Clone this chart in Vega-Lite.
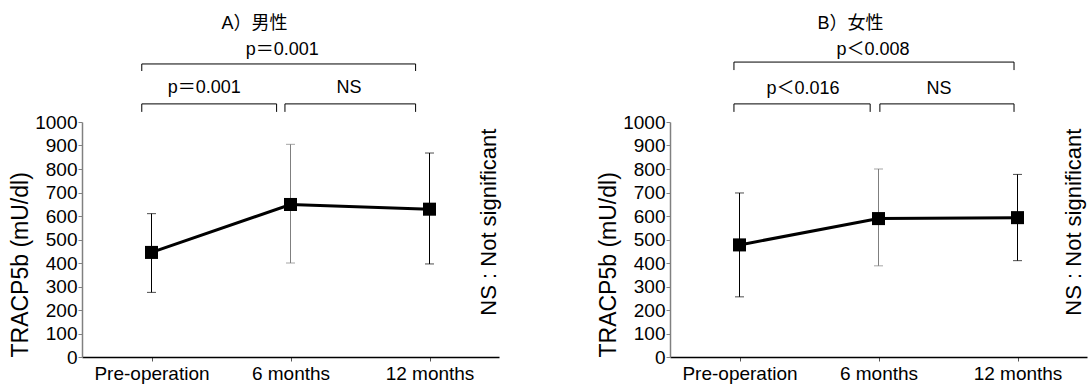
{
  "$schema": "https://vega.github.io/schema/vega-lite/v6.json",
  "padding": {"left": 9, "top": 15, "right": 2, "bottom": 2},
  "config": {
    "font": "Liberation Sans, Noto Sans CJK JP",
    "view": {"stroke": null},
    "title": {"fontSize": 18, "fontWeight": "normal", "color": "black", "offset": 8},
    "axis": {"grid": false, "labelFontSize": 19, "labelColor": "black", "titleFontSize": 23, "titleFontWeight": "normal", "titleColor": "black", "tickSize": 4, "labelOverlap": false}
  },
  "datasets": {
    "means": [
      {"sex": "男性", "time": "Pre-operation", "t": 1, "mean": 445, "lo": 275, "hi": 610},
      {"sex": "男性", "time": "6 months", "t": 2, "mean": 649, "lo": 400, "hi": 905},
      {"sex": "男性", "time": "12 months", "t": 3, "mean": 629, "lo": 396, "hi": 868},
      {"sex": "女性", "time": "Pre-operation", "t": 1, "mean": 477, "lo": 256, "hi": 698},
      {"sex": "女性", "time": "6 months", "t": 2, "mean": 589, "lo": 388, "hi": 800},
      {"sex": "女性", "time": "12 months", "t": 3, "mean": 593, "lo": 410, "hi": 777}
    ],
    "brackets": [
      {"sex": "男性", "from": 0.93, "to": 2.9, "level": 1247, "drop": 1217},
      {"sex": "男性", "from": 0.93, "to": 1.9, "level": 1077, "drop": 1043},
      {"sex": "男性", "from": 1.96, "to": 2.9, "level": 1077, "drop": 1043},
      {"sex": "女性", "from": 0.96, "to": 2.975, "level": 1255, "drop": 1221},
      {"sex": "女性", "from": 0.96, "to": 1.94, "level": 1077, "drop": 1043},
      {"sex": "女性", "from": 2.01, "to": 2.975, "level": 1077, "drop": 1043}
    ],
    "labels": [
      {"sex": "男性", "x": 1.94, "y": 1306, "text": "p＝0.001"},
      {"sex": "男性", "x": 1.38, "y": 1145, "text": "p＝0.001"},
      {"sex": "男性", "x": 2.42, "y": 1145, "text": "NS"},
      {"sex": "女性", "x": 1.96, "y": 1306, "text": "p＜0.008"},
      {"sex": "女性", "x": 1.457, "y": 1142, "text": "p＜0.016"},
      {"sex": "女性", "x": 2.435, "y": 1142, "text": "NS"}
    ],
    "notes": [
      {"sex": "男性", "x": 3.43, "y": 574, "text": "NS : Not significant"},
      {"sex": "女性", "x": 3.41, "y": 574, "text": "NS : Not significant"}
    ]
  },
  "hconcat": [
    {
      "title": {"text": "A）男性", "dx": -36},
      "width": 417,
      "height": 235,
      "encoding": {
        "x": {"type": "quantitative", "scale": {"domain": [0.5, 3.5], "nice": false, "zero": false},
              "axis": {"values": [1, 2, 3], "tickCount": 20, "title": null, "labelExpr": "datum.value == 1 ? 'Pre-operation' : datum.value == 2 ? '6 months' : '12 months'", "domainColor": "black", "domainWidth": 1.5, "tickColor": "#555", "labelPadding": 3}},
        "y": {"type": "quantitative", "scale": {"domain": [0, 1000], "nice": false},
              "axis": {"values": [0,100,200,300,400,500,600,700,800,900,1000], "tickCount": 30, "labelOverlap": false, "format": "d", "title": "TRACP5b (mU/dl)", "titleAnchor": "start", "titlePadding": 2, "domainColor": "#808080", "domainWidth": 1.5, "tickColor": "#808080", "labelPadding": 1}}
      },
      "layer": [
        {
          "data": {"name": "means"},
          "transform": [{"filter": "datum.sex === '男性'"}],
          "layer": [
            {"mark": {"type": "rule", "strokeWidth": 1},
             "encoding": {
               "x": {"field": "t"},
               "y": {"field": "lo"},
               "y2": {"field": "hi"},
               "color": {"field": "time", "type": "nominal", "scale": {"domain": ["Pre-operation", "6 months", "12 months"], "range": ["#000000", "#7f7f7f", "#000000"]}, "legend": null}
             }},
            {"mark": {"type": "tick", "orient": "horizontal", "size": 9, "thickness": 1},
             "encoding": {"x": {"field": "t"}, "y": {"field": "lo"},
               "color": {"field": "time", "type": "nominal", "legend": null}}},
            {"mark": {"type": "tick", "orient": "horizontal", "size": 9, "thickness": 1},
             "encoding": {"x": {"field": "t"}, "y": {"field": "hi"},
               "color": {"field": "time", "type": "nominal", "legend": null}}},
            {"mark": {"type": "line", "color": "black", "strokeWidth": 3},
             "encoding": {"x": {"field": "t"}, "y": {"field": "mean"}}},
            {"mark": {"type": "point", "shape": "square", "filled": true, "color": "black", "opacity": 1, "size": 170},
             "encoding": {"x": {"field": "t"}, "y": {"field": "mean"}}}
          ]
        },
        {
          "data": {"name": "brackets"},
          "transform": [{"filter": "datum.sex === '男性'"}],
          "layer": [
            {"mark": {"type": "rule", "color": "black", "strokeWidth": 1},
             "encoding": {"x": {"field": "from"}, "x2": {"field": "to"}, "y": {"field": "level"}}},
            {"mark": {"type": "rule", "color": "black", "strokeWidth": 1},
             "encoding": {"x": {"field": "from"}, "y": {"field": "level"}, "y2": {"field": "drop"}}},
            {"mark": {"type": "rule", "color": "black", "strokeWidth": 1},
             "encoding": {"x": {"field": "to"}, "y": {"field": "level"}, "y2": {"field": "drop"}}}
          ]
        },
        {
          "data": {"name": "labels"},
          "transform": [{"filter": "datum.sex === '男性'"}],
          "mark": {"type": "text", "fontSize": 18, "color": "black", "baseline": "middle", "align": "center"},
          "encoding": {"x": {"field": "x"}, "y": {"field": "y"}, "text": {"field": "text"}}
        },
        {
          "data": {"name": "notes"},
          "transform": [{"filter": "datum.sex === '男性'"}],
          "mark": {"type": "text", "fontSize": 22, "color": "black", "baseline": "middle", "align": "center", "angle": 270},
          "encoding": {"x": {"field": "x"}, "y": {"field": "y"}, "text": {"field": "text"}}
        }
      ]
    },
    {
      "title": {"text": "B）女性", "dx": -28},
      "width": 417,
      "height": 235,
      "encoding": {
        "x": {"type": "quantitative", "scale": {"domain": [0.5, 3.5], "nice": false, "zero": false},
              "axis": {"values": [1, 2, 3], "tickCount": 20, "title": null, "labelExpr": "datum.value == 1 ? 'Pre-operation' : datum.value == 2 ? '6 months' : '12 months'", "domainColor": "black", "domainWidth": 1.5, "tickColor": "#555", "labelPadding": 3}},
        "y": {"type": "quantitative", "scale": {"domain": [0, 1000], "nice": false},
              "axis": {"values": [0,100,200,300,400,500,600,700,800,900,1000], "tickCount": 30, "labelOverlap": false, "format": "d", "title": "TRACP5b (mU/dl)", "titleAnchor": "start", "titlePadding": 2, "domainColor": "#808080", "domainWidth": 1.5, "tickColor": "#808080", "labelPadding": 1}}
      },
      "layer": [
        {
          "data": {"name": "means"},
          "transform": [{"filter": "datum.sex === '女性'"}],
          "layer": [
            {"mark": {"type": "rule", "strokeWidth": 1},
             "encoding": {
               "x": {"field": "t"},
               "y": {"field": "lo"},
               "y2": {"field": "hi"},
               "color": {"field": "time", "type": "nominal", "scale": {"domain": ["Pre-operation", "6 months", "12 months"], "range": ["#000000", "#7f7f7f", "#000000"]}, "legend": null}
             }},
            {"mark": {"type": "tick", "orient": "horizontal", "size": 9, "thickness": 1},
             "encoding": {"x": {"field": "t"}, "y": {"field": "lo"},
               "color": {"field": "time", "type": "nominal", "legend": null}}},
            {"mark": {"type": "tick", "orient": "horizontal", "size": 9, "thickness": 1},
             "encoding": {"x": {"field": "t"}, "y": {"field": "hi"},
               "color": {"field": "time", "type": "nominal", "legend": null}}},
            {"mark": {"type": "line", "color": "black", "strokeWidth": 3},
             "encoding": {"x": {"field": "t"}, "y": {"field": "mean"}}},
            {"mark": {"type": "point", "shape": "square", "filled": true, "color": "black", "opacity": 1, "size": 170},
             "encoding": {"x": {"field": "t"}, "y": {"field": "mean"}}}
          ]
        },
        {
          "data": {"name": "brackets"},
          "transform": [{"filter": "datum.sex === '女性'"}],
          "layer": [
            {"mark": {"type": "rule", "color": "black", "strokeWidth": 1},
             "encoding": {"x": {"field": "from"}, "x2": {"field": "to"}, "y": {"field": "level"}}},
            {"mark": {"type": "rule", "color": "black", "strokeWidth": 1},
             "encoding": {"x": {"field": "from"}, "y": {"field": "level"}, "y2": {"field": "drop"}}},
            {"mark": {"type": "rule", "color": "black", "strokeWidth": 1},
             "encoding": {"x": {"field": "to"}, "y": {"field": "level"}, "y2": {"field": "drop"}}}
          ]
        },
        {
          "data": {"name": "labels"},
          "transform": [{"filter": "datum.sex === '女性'"}],
          "mark": {"type": "text", "fontSize": 18, "color": "black", "baseline": "middle", "align": "center"},
          "encoding": {"x": {"field": "x"}, "y": {"field": "y"}, "text": {"field": "text"}}
        },
        {
          "data": {"name": "notes"},
          "transform": [{"filter": "datum.sex === '女性'"}],
          "mark": {"type": "text", "fontSize": 22, "color": "black", "baseline": "middle", "align": "center", "angle": 270},
          "encoding": {"x": {"field": "x"}, "y": {"field": "y"}, "text": {"field": "text"}}
        }
      ]
    }
  ],
  "spacing": 96
}
